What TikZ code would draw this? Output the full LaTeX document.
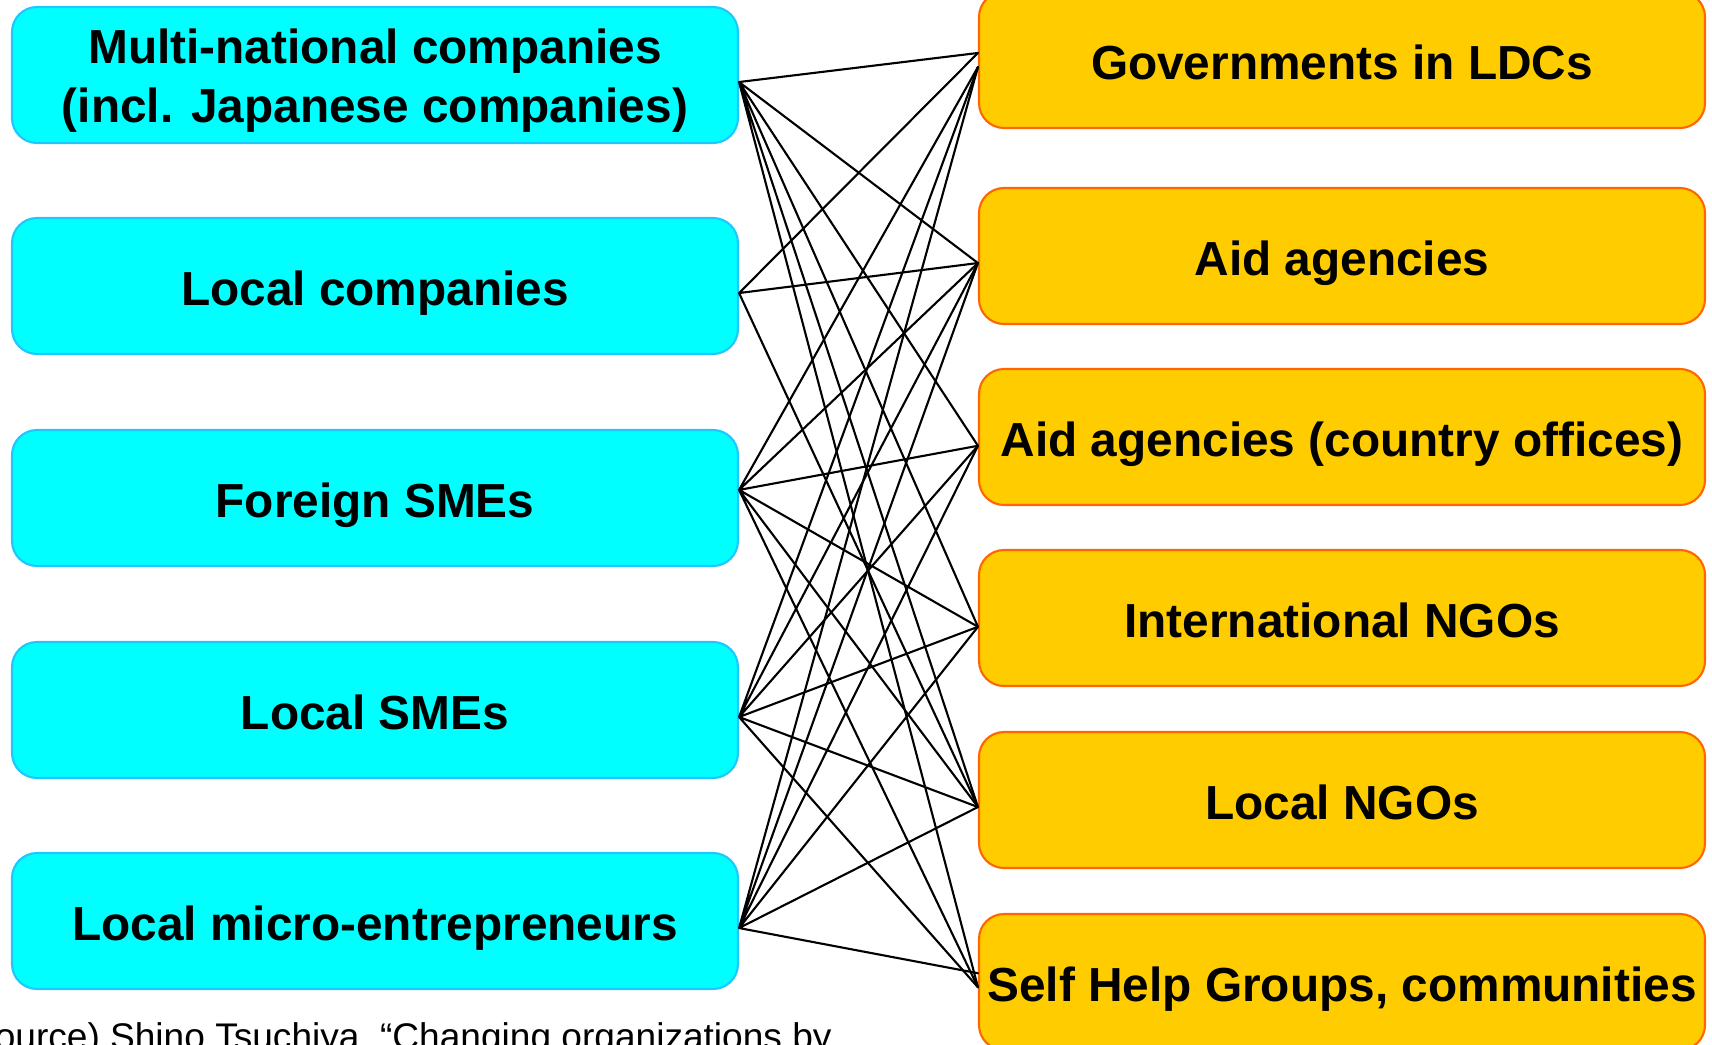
\documentclass[tikz,border=0pt]{standalone}
\usepackage{fontspec}
\setmainfont{Liberation Sans}
\definecolor{boxcyan}{RGB}{0,255,255}
\definecolor{cyanline}{RGB}{30,200,255}
\definecolor{boxgold}{RGB}{255,204,0}
\definecolor{goldline}{RGB}{255,102,0}
\begin{document}
\begin{tikzpicture}[line join=round,line cap=round,
	firm/.style={draw=cyanline,fill=boxcyan,rounded corners=0.25cm,line width=0.6pt,
		minimum width=7.26cm,minimum height=1.36cm,inner sep=0pt,align=center,
		text height=13.8pt,text depth=2.9pt,
		font={\fontsize{13.6}{16.8}\selectfont\bfseries}},
	partner/.style={firm,draw=goldline,fill=boxgold},
	link/.style={line width=0.6pt}]
		\useasboundingbox (0,0) rectangle (17.12,10.44);
		% companies
		\node[firm,text height=29.9pt] (mnc) at (3.75,9.69) {Multi-national companies\\(incl. Japanese companies)};
		\node[firm] (lco) at (3.75,7.58) {Local companies};
		\node[firm] (fsme) at (3.75,5.46) {Foreign SMEs};
		\node[firm] (lsme) at (3.75,3.34) {Local SMEs};
		\node[firm] (micro) at (3.75,1.23) {Local micro-entrepreneurs};
		% partners
		\node[partner] (gov) at (13.42,9.84) {Governments in LDCs};
		\node[partner] (aid) at (13.42,7.88) {Aid agencies};
		\node[partner] (aidc) at (13.42,6.07) {Aid agencies (country offices)};
		\node[partner] (ingo) at (13.42,4.26) {International NGOs};
		\node[partner] (lngo) at (13.42,2.44) {Local NGOs};
		\node[partner] (shg) at (13.42,0.62) {Self Help Groups, communities};
		% links, the ends sit a little off the middle of the boxes
		\draw[link] ([yshift=-2pt]mnc.east)--([yshift=2pt]gov.west)
		([yshift=-2pt]mnc.east)--([yshift=-2pt]aid.west)
		([yshift=-2pt]mnc.east)--([yshift=-2.5pt]aidc.west)
		([yshift=-2pt]mnc.east)--([yshift=-2.5pt]ingo.west)
		([yshift=-2pt]mnc.east)--([yshift=-2pt]lngo.west)
		([yshift=-2pt]mnc.east)--([yshift=-1.5pt]shg.west);
		\draw[link] ([yshift=-2pt]lco.east)--([yshift=2pt]gov.west)
		([yshift=-2pt]lco.east)--([yshift=-2pt]aid.west)
		([yshift=-2pt]lco.east)--([yshift=-2pt]lngo.west);
		\draw[link] ([yshift=2.3pt]fsme.east)--([yshift=-2pt]gov.west)
		([yshift=2.3pt]fsme.east)--([yshift=-2pt]aid.west)
		([yshift=2.3pt]fsme.east)--([yshift=-2.5pt]aidc.west)
		([yshift=2.3pt]fsme.east)--([yshift=-2.5pt]ingo.west)
		([yshift=2.3pt]fsme.east)--([yshift=-2pt]lngo.west)
		([yshift=2.3pt]fsme.east)--([yshift=-1.5pt]shg.west);
		\draw[link] ([yshift=-2pt]lsme.east)--([yshift=-2pt]gov.west)
		([yshift=-2pt]lsme.east)--([yshift=-2pt]aid.west)
		([yshift=-2pt]lsme.east)--([yshift=-2.5pt]aidc.west)
		([yshift=-2pt]lsme.east)--([yshift=-2.5pt]ingo.west)
		([yshift=-2pt]lsme.east)--([yshift=-2pt]lngo.west)
		([yshift=-2pt]lsme.east)--([yshift=-1.5pt]shg.west);
		\draw[link] ([yshift=-2pt]micro.east)--([yshift=-2pt]gov.west)
		([yshift=-2pt]micro.east)--([yshift=-2pt]aid.west)
		([yshift=-2pt]micro.east)--([yshift=-2.5pt]aidc.west)
		([yshift=-2pt]micro.east)--([yshift=-2.5pt]ingo.west)
		([yshift=-2pt]micro.east)--([yshift=-2pt]lngo.west)
		([yshift=-2pt]micro.east)--([yshift=2.5pt]shg.west);
		\node[anchor=base west,inner sep=0pt,font=\fontsize{10.55}{12.5}\selectfont] (src) at (-0.43,-0.05)
		{(Source) Shino Tsuchiya, “Changing organizations by};
\end{tikzpicture}
\end{document}
